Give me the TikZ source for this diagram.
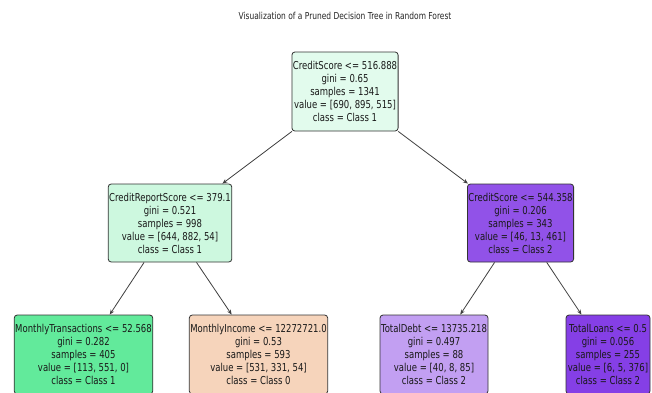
\documentclass[tikz,border=0pt]{standalone}
\usepackage{fontspec}
\setmainfont{DejaVu Sans}[FakeStretch=0.78]
\usetikzlibrary{arrows.meta}
\definecolor{cRoot}{RGB}{226,251,237}
\definecolor{cLM}{RGB}{205,248,223}
\definecolor{cRM}{RGB}{145,82,232}
\definecolor{cMT}{RGB}{98,234,155}
\definecolor{cMI}{RGB}{246,212,187}
\definecolor{cTD}{RGB}{194,159,242}
\definecolor{cTL}{RGB}{133,63,230}
\tikzset{
  treenode/.style={draw=black!80, line width=0.8pt, rounded corners=3pt,
    align=center, inner xsep=1pt, inner ysep=0pt,
    font=\fontsize{10.9}{13}\selectfont, text=black!90},
  edge/.style={draw=black!75, line width=0.8pt, -{Stealth[length=5pt,width=4pt]}}
}
\begin{document}
\begin{tikzpicture}[x=1pt,y=-1pt]
\clip (0,0) rectangle (652,392);
\fill[white] (0,0) rectangle (652,392);
\node[font=\fontsize{9.6}{11}\selectfont, text=black!85] (title) at (345,16) {Visualization of a Pruned Decision Tree in Random Forest};
\node[treenode, fill=cRoot, minimum width=106pt, minimum height=79pt] (root) at (345,91.5)
  {CreditScore <= 516.888\\gini = 0.65\\samples = 1341\\value = [690, 895, 515]\\class = Class 1};
\node[treenode, fill=cLM, minimum width=122pt, minimum height=78pt] (lm) at (170,223)
  {CreditReportScore <= 379.1\\gini = 0.521\\samples = 998\\value = [644, 882, 54]\\class = Class 1};
\node[treenode, fill=cRM, minimum width=105pt, minimum height=78pt] (rm) at (520.5,223)
  {CreditScore <= 544.358\\gini = 0.206\\samples = 343\\value = [46, 13, 461]\\class = Class 2};
\node[treenode, fill=cMT, minimum width=137pt, minimum height=79pt] (mt) at (83.5,354.5)
  {MonthlyTransactions <= 52.568\\gini = 0.282\\samples = 405\\value = [113, 551, 0]\\class = Class 1};
\node[treenode, fill=cMI, minimum width=135pt, minimum height=79pt] (mi) at (258.5,354.5)
  {MonthlyIncome <= 12272721.0\\gini = 0.53\\samples = 593\\value = [531, 331, 54]\\class = Class 0};
\node[treenode, fill=cTD, minimum width=106pt, minimum height=79pt] (td) at (434,354.5)
  {TotalDebt <= 13735.218\\gini = 0.497\\samples = 88\\value = [40, 8, 85]\\class = Class 2};
\node[treenode, fill=cTL, minimum width=84pt, minimum height=79pt] (tl) at (608,354.5)
  {TotalLoans <= 0.5\\gini = 0.056\\samples = 255\\value = [6, 5, 376]\\class = Class 2};
\draw[edge] (root) -- (lm);
\draw[edge] (root) -- (rm);
\draw[edge] (lm) -- (mt);
\draw[edge] (lm) -- (mi);
\draw[edge] (rm) -- (td);
\draw[edge] (rm) -- (tl);
\end{tikzpicture}
\end{document}
